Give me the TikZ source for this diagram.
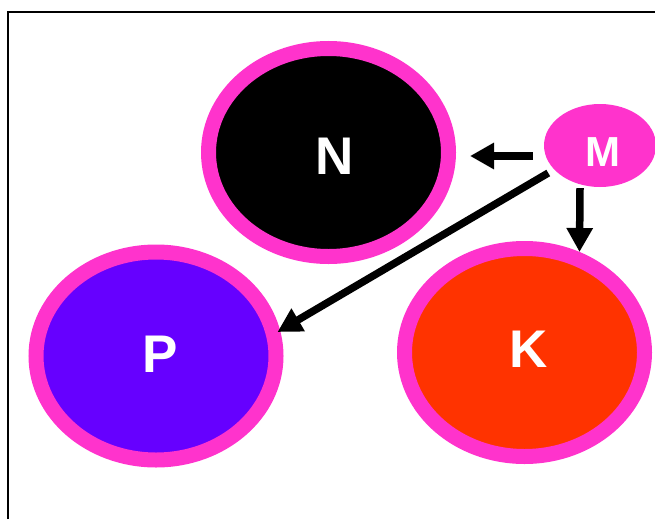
\documentclass[tikz,border=0pt]{standalone}
\usepackage{fontspec}
\setmainfont{Liberation Sans}
\usetikzlibrary{shapes.geometric,arrows.meta}
\definecolor{ringpink}{HTML}{FF33CC}
\definecolor{violetfill}{HTML}{6600FF}
\definecolor{redfill}{HTML}{FF3300}
\tikzset{
  ring/.style={ellipse, draw=ringpink, line width=15pt, inner sep=0pt,
               minimum width=240pt, minimum height=208pt},
  bubble/.style={ellipse, fill=ringpink, inner sep=0pt,
                 minimum width=112pt, minimum height=83pt},
  bigletter/.style={text=white, font=\bfseries\fontsize{53}{53}\selectfont, inner sep=0pt},
  smallletter/.style={text=white, font=\bfseries\fontsize{42}{42}\selectfont, inner sep=0pt},
  arr/.style={line width=7.5pt, -{Triangle[length=24pt,width=25pt]}}
}
\begin{document}
\begin{tikzpicture}[x=1pt,y=-1pt]
  \useasboundingbox (0,0) rectangle (655,519);
  % frame
  \draw[line width=2.3pt] (8.3,519) -- (8.3,12.2) -- (655,12.2);
  % ellipses
  \node[ring, fill=black]      (N) at (328.5,152.5) {};
  \node[ring, fill=violetfill] (P) at (156,356) {};
  \node[ring, fill=redfill]    (K) at (524.5,352.5) {};
  \node[bubble]                (M) at (600,145.5) {};
  % letters
  \node[bigletter]   at ([xshift=6pt,yshift=-3.5pt]N.center) {N};
  \node[bigletter]   at ([xshift=4.5pt,yshift=2pt]P.center) {P};
  \node[bigletter]   at ([xshift=4.5pt,yshift=3pt]K.center) {K};
  \node[smallletter] at ([xshift=2.5pt,yshift=-6.5pt]M.center) {M};
  % arrows
  \draw[arr] ([xshift=-11pt,yshift=-10.5pt]M.west) -- ([xshift=14pt,yshift=-3.5pt]N.east);
  \draw[arr] ([xshift=-20pt,yshift=-1pt]M.south) -- ([xshift=55pt,yshift=-11pt]K.north);
  \draw[arr] ([xshift=-12pt,yshift=2pt]M.south west) -- ([xshift=-6pt,yshift=24pt]P.east);
\end{tikzpicture}
\end{document}
